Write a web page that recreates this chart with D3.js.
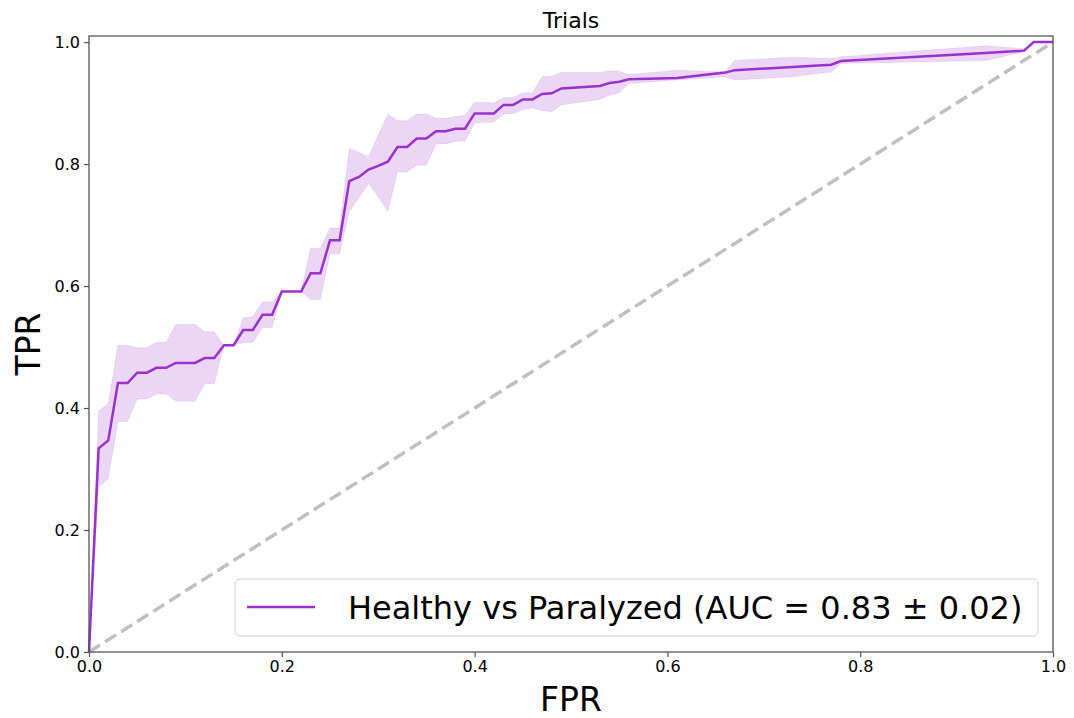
<!DOCTYPE html>
<html>
<head>
<meta charset="utf-8">
<script src="https://cdn.jsdelivr.net/npm/d3@7"></script>
<style>
  body { margin: 0; background: #fff; }
  svg { display: block; font-family: "DejaVu Sans", sans-serif; }
</style>
</head>
<body>
<div id="roc_viz"></div>
<script>
// ROC curve data
const fpr = [0, 0.01, 0.02, 0.03, 0.04, 0.05, 0.06, 0.07, 0.08, 0.09,
  0.10, 0.11, 0.12, 0.13, 0.14, 0.15, 0.16, 0.17, 0.18, 0.19,
  0.20, 0.21, 0.22, 0.23, 0.24, 0.25, 0.26, 0.27, 0.28, 0.29,
  0.30, 0.31, 0.32, 0.33, 0.34, 0.35, 0.36, 0.37, 0.38, 0.39,
  0.40, 0.41, 0.42, 0.43, 0.44, 0.45, 0.46, 0.47, 0.48, 0.49,
  0.53, 0.54, 0.55, 0.56, 0.61, 0.66, 0.67, 0.73, 0.77, 0.78,
  0.93, 0.97, 0.98, 1.00];
const tprMean = [0, 0.334, 0.347, 0.441, 0.441, 0.458, 0.458, 0.466, 0.466, 0.474,
  0.474, 0.474, 0.482, 0.482, 0.503, 0.503, 0.528, 0.528, 0.553, 0.553,
  0.591, 0.591, 0.591, 0.621, 0.621, 0.675, 0.675, 0.772, 0.779, 0.791,
  0.797, 0.804, 0.828, 0.828, 0.842, 0.842, 0.854, 0.854, 0.858, 0.858,
  0.883, 0.883, 0.883, 0.897, 0.897, 0.906, 0.906, 0.915, 0.916, 0.924,
  0.928, 0.933, 0.935, 0.939, 0.941, 0.950, 0.954, 0.959, 0.963, 0.969,
  0.982, 0.986, 1.0, 1.0];
const tprLower = [0, 0.271, 0.284, 0.378, 0.378, 0.415, 0.415, 0.423, 0.423, 0.411,
  0.411, 0.411, 0.440, 0.440, 0.503, 0.503, 0.507, 0.508, 0.532, 0.532,
  0.591, 0.591, 0.591, 0.578, 0.578, 0.653, 0.653, 0.722, 0.745, 0.768,
  0.746, 0.723, 0.787, 0.787, 0.798, 0.798, 0.833, 0.833, 0.837, 0.838,
  0.867, 0.868, 0.869, 0.882, 0.883, 0.889, 0.892, 0.888, 0.886, 0.897,
  0.906, 0.913, 0.917, 0.932, 0.938, 0.943, 0.938, 0.943, 0.951, 0.965,
  0.970, 0.984, 1.0, 1.0];
const tprUpper = [0, 0.395, 0.408, 0.503, 0.503, 0.499, 0.499, 0.508, 0.508, 0.537,
  0.537, 0.537, 0.525, 0.525, 0.503, 0.503, 0.548, 0.550, 0.574, 0.574,
  0.591, 0.591, 0.591, 0.662, 0.662, 0.695, 0.695, 0.826, 0.819, 0.812,
  0.847, 0.882, 0.871, 0.871, 0.882, 0.882, 0.875, 0.875, 0.878, 0.880,
  0.901, 0.901, 0.900, 0.909, 0.909, 0.917, 0.917, 0.943, 0.944, 0.950,
  0.950, 0.953, 0.952, 0.947, 0.954, 0.951, 0.970, 0.975, 0.973, 0.976,
  0.994, 0.989, 1.0, 1.0];
const chanceLine = [0, 1];
const tickValues = [0, 0.2, 0.4, 0.6, 0.8, 1.0];
const legendLabel = "Healthy vs Paralyzed (AUC = 0.83 \u00b1 0.02)";

const width = 1074, height = 718;
const margin = {top: 36, right: 21, bottom: 66, left: 89};
const color = "#9932CC";

const svg = d3.select("#roc_viz")
  .append("svg")
    .attr("width", width)
    .attr("height", height);

const x = d3.scaleLinear().domain([0, 1]).range([margin.left, width - margin.right]);
const y = d3.scaleLinear().domain([0, 1.01]).range([height - margin.bottom, margin.top]);

const pts = fpr.map((f, i) => ({f: f, m: tprMean[i], lo: tprLower[i], hi: tprUpper[i]}));

// std band
svg.append("path")
  .datum(pts)
  .attr("d", d3.area().x(d => x(d.f)).y0(d => y(d.lo)).y1(d => y(d.hi)))
  .attr("fill", color)
  .attr("fill-opacity", 0.2)
  .attr("stroke", color)
  .attr("stroke-opacity", 0.1);

// chance diagonal
svg.append("line")
  .attr("x1", x(chanceLine[0])).attr("y1", y(chanceLine[0]))
  .attr("x2", x(chanceLine[1])).attr("y2", y(chanceLine[1]))
  .attr("stroke", "#c0c0c0")
  .attr("stroke-width", 3.5)
  .attr("stroke-dasharray", "13,6");

// mean ROC
svg.append("path")
  .datum(pts)
  .attr("d", d3.line().x(d => x(d.f)).y(d => y(d.m)))
  .attr("fill", "none")
  .attr("stroke", color)
  .attr("stroke-width", 2.5);

// axes
const xAxis = svg.append("g")
  .attr("transform", `translate(0,${height - margin.bottom})`)
  .call(d3.axisBottom(x).tickValues(tickValues).tickFormat(d3.format(".1f")).tickSize(5).tickPadding(4));
const yAxis = svg.append("g")
  .attr("transform", `translate(${margin.left},0)`)
  .call(d3.axisLeft(y).tickValues(tickValues).tickFormat(d3.format(".1f")).tickSize(5).tickPadding(4));
[xAxis, yAxis].forEach(g => {
  g.selectAll("text").attr("font-size", 16).attr("fill", "#000").attr("font-family", "DejaVu Sans");
  g.selectAll("line").attr("stroke", "#555").attr("stroke-width", 1.2);
  g.select(".domain").remove();
});

// frame
svg.append("rect")
  .attr("x", margin.left).attr("y", margin.top)
  .attr("width", width - margin.left - margin.right)
  .attr("height", height - margin.top - margin.bottom)
  .attr("fill", "none")
  .attr("stroke", "#555")
  .attr("stroke-width", 1.3);

// titles
svg.append("text")
  .attr("x", (margin.left + width - margin.right) / 2).attr("y", 28)
  .attr("text-anchor", "middle").attr("font-size", 22)
  .text("Trials");
svg.append("text")
  .attr("x", (margin.left + width - margin.right) / 2).attr("y", 711)
  .attr("text-anchor", "middle").attr("font-size", 33)
  .text("FPR");
svg.append("text")
  .attr("transform", `translate(40,${(margin.top + height - margin.bottom) / 2}) rotate(-90)`)
  .attr("text-anchor", "middle").attr("font-size", 33)
  .text("TPR");

// legend
const legend = svg.append("g");
legend.append("rect")
  .attr("x", 235).attr("y", 579).attr("width", 803).attr("height", 57)
  .attr("rx", 5)
  .attr("fill", "#fff").attr("fill-opacity", 0.8)
  .attr("stroke", "#d0d0d0");
legend.append("line")
  .attr("x1", 247).attr("x2", 315).attr("y1", 607).attr("y2", 607)
  .attr("stroke", color).attr("stroke-width", 2.5);
legend.append("text")
  .attr("x", 348).attr("y", 619)
  .attr("font-size", 32)
  .text(legendLabel);
</script>
</body>
</html>
